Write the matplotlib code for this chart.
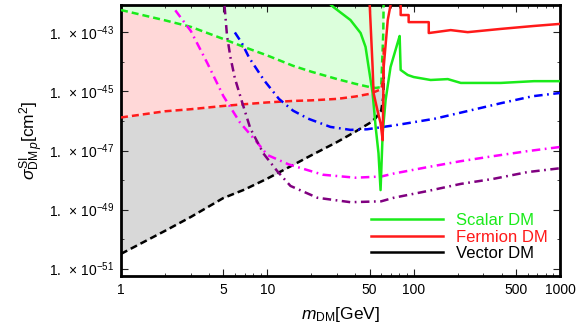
import numpy as np
import matplotlib.pyplot as plt
from matplotlib.ticker import FixedLocator, NullFormatter

plt.rcParams['font.family'] = ['Liberation Sans', 'DejaVu Sans']
plt.rcParams['mathtext.fontset'] = 'custom'
plt.rcParams['mathtext.rm'] = 'Liberation Sans'
plt.rcParams['mathtext.it'] = 'Liberation Sans:italic'
plt.rcParams['mathtext.bf'] = 'Liberation Sans:bold'

# ---- data (masses in GeV, cross sections as log10(sigma / cm^2)) ----
# Higgs invisible-width bounds, shared mass grid (up to m_h/2)
m_inv = [1, 2, 3, 5, 7, 10, 15, 20, 30, 40, 50, 55, 60, 62, 62.5]
scalar_inv = [-42.24, -42.59, -42.81, -43.22, -43.50, -43.78, -44.13, -44.33,
              -44.58, -44.74, -44.85, -44.88, -44.85, -43.0, -41.5]
fermion_inv = [-45.88, -45.67, -45.60, -45.49, -45.43, -45.37, -45.32, -45.30,
               -45.25, -45.17, -45.08, -45.00, -44.92, -44.6, -43.5]
vector_inv = [-50.50, -49.72, -49.25, -48.61, -48.32, -47.95, -47.49, -47.16,
              -46.71, -46.36, -46.07, -45.90, -45.65, -45.2, -44.5]

# direct detection limits (dash-dot)
m_blue = [6.0, 6.7, 7.5, 9.5, 12, 15, 19, 27, 37, 48, 80, 140, 230, 400, 650, 1000]
blue = [-43.0, -43.36, -43.85, -44.62, -45.25, -45.65, -45.92, -46.2, -46.3,
        -46.28, -46.12, -45.92, -45.67, -45.39, -45.16, -45.05]

m_mag = [2.35, 3.0, 3.9, 5.0, 6.5, 8.5, 10, 14, 24, 40, 60, 73, 125, 210, 350, 600, 1000]
magenta = [-42.25, -42.95, -44.05, -45.15, -46.05, -46.72, -47.15, -47.47, -47.82,
           -47.92, -47.88, -47.78, -47.56, -47.36, -47.19, -47.02, -46.88]

m_pur = [5.1, 5.3, 5.6, 6.0, 6.75, 7.65, 9.4, 11.7, 14.4, 22, 37, 60, 73, 125,
         210, 350, 600, 1000]
purple = [-42.1, -43.1, -43.85, -44.55, -45.39, -46.25, -47.1, -47.7, -48.2, -48.6,
          -48.75, -48.72, -48.6, -48.37, -48.13, -47.96, -47.73, -47.6]

# relic-density curves (solid)
m_scalar = [26.3, 28.3, 37.0, 43.4, 46.9, 49.2, 52.4, 55.0, 57.5, 59.4, 61.4, 64.3,
            69.5, 77.6, 80.2, 81.5, 91.0, 100, 130.6, 171, 210, 394, 664, 1000]
scalar = [-42.0, -42.14, -42.58, -43.02, -43.49, -44.17, -45.05, -46.21, -47.09,
          -48.34, -46.41, -45.29, -44.17, -43.36, -43.12, -44.27, -44.44, -44.51,
          -44.61, -44.58, -44.71, -44.71, -44.65, -44.65]

m_fermion = [50.0, 52.4, 53.2, 56.5, 59.4, 61.4, 62.4, 66.5, 69.5, 75, 81.5, 81.5,
             92.4, 92.4, 126.8, 126.8, 179, 234, 394, 664, 1000]
fermion = [-42.0, -44.17, -45.05, -45.63, -46.07, -46.65, -44.17, -42.58, -42.07,
           -41.5, -42.07, -42.41, -42.41, -42.65, -42.65, -43.02, -42.92, -42.99,
           -42.88, -42.78, -42.71]

xticks = [1, 5, 10, 50, 100, 500, 1000]
yticks_exp = [-51, -49, -47, -45, -43]
ylog_min, ylog_max = -51.25, -42.07

green = '#1aeb1a'
red = '#ff1a1a'

sig = lambda a: 10.0 ** np.array(a)

fig = plt.figure(figsize=(5.81, 3.33), dpi=100)
ax = fig.add_axes([121 / 581, 1 - 276 / 333, (560 - 121) / 581, (276 - 5) / 333])
ax.set_xscale('log')
ax.set_yscale('log')

# shaded regions
ax.fill_between(m_inv, sig(scalar_inv), 1e-40, color='#dcffdc', lw=0, zorder=1)
ax.fill_between(m_inv, sig(fermion_inv), sig(scalar_inv), color='#ffd8d8', lw=0, zorder=1)
ax.fill_between(m_inv, sig(vector_inv), sig(fermion_inv), color='#d8d8d8', lw=0, zorder=1)

# invisible width bounds
ax.plot(m_inv, sig(scalar_inv), color=green, lw=1.8, dashes=(2.8, 1.6), zorder=3)
ax.plot(m_inv, sig(fermion_inv), color=red, lw=1.8, dashes=(2.8, 1.6), zorder=3)
ax.plot(m_inv, sig(vector_inv), color='black', lw=1.8, dashes=(2.8, 1.6), zorder=3)

# direct detection
dd = (3.4, 1.8, 0.7, 1.8)
ax.plot(m_blue, sig(blue), color='#0000ff', lw=1.8, dashes=dd, zorder=3)
ax.plot(m_mag, sig(magenta), color='#ff00ff', lw=1.8, dashes=dd, zorder=3)
ax.plot(m_pur, sig(purple), color='#800080', lw=1.8, dashes=dd, zorder=3)

# relic curves
l1, = ax.plot(m_scalar, sig(scalar), color=green, lw=1.8, zorder=4, label='Scalar DM')
l2, = ax.plot(m_fermion, sig(fermion), color=red, lw=1.8, zorder=4, label='Fermion DM')
l3, = ax.plot([], [], color='black', lw=1.8, label='Vector DM')

ax.set_xlim(1, 1000)
ax.set_ylim(10 ** ylog_min, 10 ** ylog_max)

ax.set_xticks(xticks)
ax.set_xticklabels([str(t) for t in xticks])
ax.xaxis.set_minor_locator(FixedLocator(
    [k * 10 ** d for d in range(0, 3) for k in range(2, 10) if k != 5]))
ax.xaxis.set_minor_formatter(NullFormatter())
ax.set_yticks([10.0 ** e for e in yticks_exp])
ax.set_yticklabels([r'$1.\;\times\,10^{%d}$' % e for e in yticks_exp], fontsize=10.5)
ax.yaxis.set_minor_locator(FixedLocator([10.0 ** e for e in range(-52, -41)]))
ax.yaxis.set_minor_formatter(NullFormatter())

ax.tick_params(which='both', direction='in', top=True, right=True, labelsize=10,
               colors='#222222', labelcolor='black')
ax.tick_params(which='major', length=5, width=0.8, pad=5)
ax.tick_params(which='minor', length=2.5, width=0.6)
for s in ax.spines.values():
    s.set_linewidth(2.0)

ax.set_xlabel(r'$m_{\mathrm{DM}}$[GeV]', fontsize=12.5, labelpad=6)
ax.set_ylabel(r'$\sigma^{\mathrm{SI}}_{\mathrm{DM}\,p}[\mathrm{cm}^2]$', fontsize=12.5, labelpad=2)

leg = ax.legend(handles=[l1, l2, l3], loc='lower right', frameon=False, fontsize=12,
                handlelength=4.3, handletextpad=0.8, labelspacing=0.1,
                bbox_to_anchor=(0.988, 0.03), borderaxespad=0)
for t, c in zip(leg.get_texts(), [green, red, 'black']):
    t.set_color(c)

fig.savefig('out.png', dpi=100)
